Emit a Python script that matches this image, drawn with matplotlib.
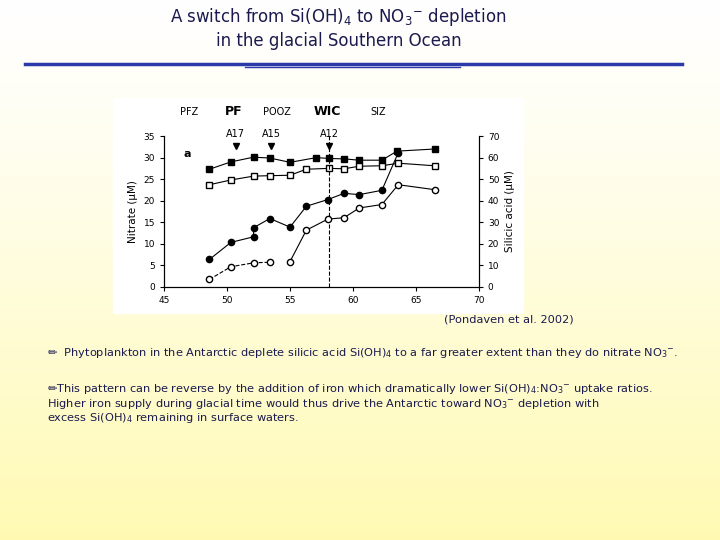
import matplotlib
matplotlib.use("Agg")
import matplotlib.pyplot as plt
import numpy as np
from matplotlib.patches import Rectangle

lat_sq = [48.6, 50.3, 52.1, 53.4, 55.0, 57.1, 58.1, 59.3, 60.5, 62.3, 63.5, 66.5]
no3_filled = [27.3, 29.0, 30.1, 29.9, 28.9, 30.0, 29.8, 29.7, 29.4, 29.4, 31.5, 32.0]
lat_osq = [48.6, 50.3, 52.1, 53.4, 55.0, 56.3, 58.1, 59.3, 60.5, 62.3, 63.6, 66.5]
no3_open = [23.7, 24.8, 25.7, 25.8, 25.9, 27.3, 27.5, 27.4, 28.0, 28.1, 28.7, 28.1]
lat_fc = [48.6, 50.3, 52.1, 52.1, 53.4, 55.0, 56.3, 58.0, 59.3, 60.5, 62.3, 63.6]
si_filled = [12.7, 20.6, 23.2, 27.4, 31.7, 27.7, 37.4, 40.5, 43.4, 42.8, 44.8, 62.3]
lat_oc1 = [48.6, 50.3, 52.1, 53.4]
si_open1 = [3.4, 9.3, 11.1, 11.4]
lat_oc2 = [55.0, 56.3, 58.0, 59.3, 60.5, 62.3, 63.6, 66.5]
si_open2 = [11.7, 26.3, 31.4, 32.1, 36.6, 38.2, 47.4, 45.1]
stations = ["A17", "A15", "A12"]
station_lat = [50.7, 53.5, 58.1]
zones = ["PFZ", "PF", "POOZ", "WIC", "SIZ"]
zone_x = [47.0, 50.5, 54.0, 58.0, 62.0]
zone_bold = [False, True, False, True, False]

fig = plt.figure(figsize=(7.2, 5.4), dpi=100)
bg = fig.add_axes([0, 0, 1, 1], zorder=-10)
grad = np.linspace(0, 1, 256)[:, None]
cols = np.zeros((256, 1, 3))
top = np.array([1.0, 1.0, 1.0]); bot = np.array([1.0, 0.98, 0.70])
for i in range(3):
    cols[:, 0, i] = top[i] + (bot[i] - top[i]) * grad[:, 0] ** 1.2
bg.imshow(cols, aspect="auto", extent=[0, 1, 0, 1], origin="upper")
bg.set_xlim(0, 1); bg.set_ylim(0, 1); bg.axis("off")
bg.add_patch(Rectangle((113/720, 1-313/540), 410/720, 215/540, color="white", zorder=1))
bg.plot([25/720, 682/720], [1-64/540]*2, color="#2a3aa8", lw=2.5, zorder=2)
bg.plot([245/720, 460/720], [1-67/540]*2, color="#2a3aa8", lw=1, zorder=2)

tfont = dict(family=["DejaVu Sans"], fontsize=12, color="#1a1a4e")
fig.text(0.47, 0.968, r"A switch from Si(OH)$_4$ to NO$_3$$^{-}$ depletion", ha="center", va="center", **tfont)
fig.text(0.47, 0.924, "in the glacial Southern Ocean", ha="center", va="center", **tfont)
sfont = dict(fontsize=8.2, color="#1a1a4e")
fig.text(0.617, 0.402, "(Pondaven et al. 2002)", ha="left", **sfont)
fig.text(0.065, 0.340, r"✏  Phytoplankton in the Antarctic deplete silicic acid Si(OH)$_4$ to a far greater extent than they do nitrate NO$_3$$^{-}$.", **sfont)
fig.text(0.065, 0.274, r"✏This pattern can be reverse by the addition of iron which dramatically lower Si(OH)$_4$:NO$_3$$^{-}$ uptake ratios.", **sfont)
fig.text(0.065, 0.247, r"Higher iron supply during glacial time would thus drive the Antarctic toward NO$_3$$^{-}$ depletion with", **sfont)
fig.text(0.065, 0.220, r"excess Si(OH)$_4$ remaining in surface waters.", **sfont)

ax = fig.add_axes([0.228, 0.469, 0.437, 0.279])
ax.set_facecolor("none")
ax.set_xlim(45, 70); ax.set_ylim(0, 35)
ax.set_xticks(range(45, 71, 5)); ax.set_yticks(range(0, 36, 5))
ax.tick_params(labelsize=6.5, length=3)
ax.set_ylabel("Nitrate (µM)", fontsize=7.5)
ax2 = ax.twinx()
ax2.set_ylim(0, 70); ax2.set_yticks(range(0, 71, 10))
ax2.tick_params(labelsize=6.5, length=3)
ax2.set_ylabel("Silicic acid (µM)", fontsize=7.5)
for a in (ax, ax2):
    a.spines["top"].set_visible(False)

kw = dict(color="black", lw=0.8, ms=4.5)
ax.plot(lat_sq, no3_filled, "s-", mfc="black", **kw)
ax.plot(lat_osq, no3_open, "s-", mfc="white", **kw)
ax2.plot(lat_fc, si_filled, "o-", mfc="black", **kw)
ax2.plot(lat_oc1, si_open1, "o--", mfc="white", **kw)
ax2.plot(lat_oc2, si_open2, "o-", mfc="white", **kw)
ax.axvline(58.1, color="black", ls="--", lw=0.8)
ax.text(46.5, 30.2, "a", fontsize=8, fontweight="bold")
for s, x in zip(stations, station_lat):
    ax.plot(x, 32.6, "v", color="black", ms=4.5, clip_on=False)
    ax.text(x, 34.8, s, ha="center", fontsize=7)
for z, x, b in zip(zones, zone_x, zone_bold):
    ax.text(x, 39.8, z, ha="center", fontsize=9 if b else 7, fontweight="bold" if b else "normal")

fig.savefig("out.png", dpi=100)
